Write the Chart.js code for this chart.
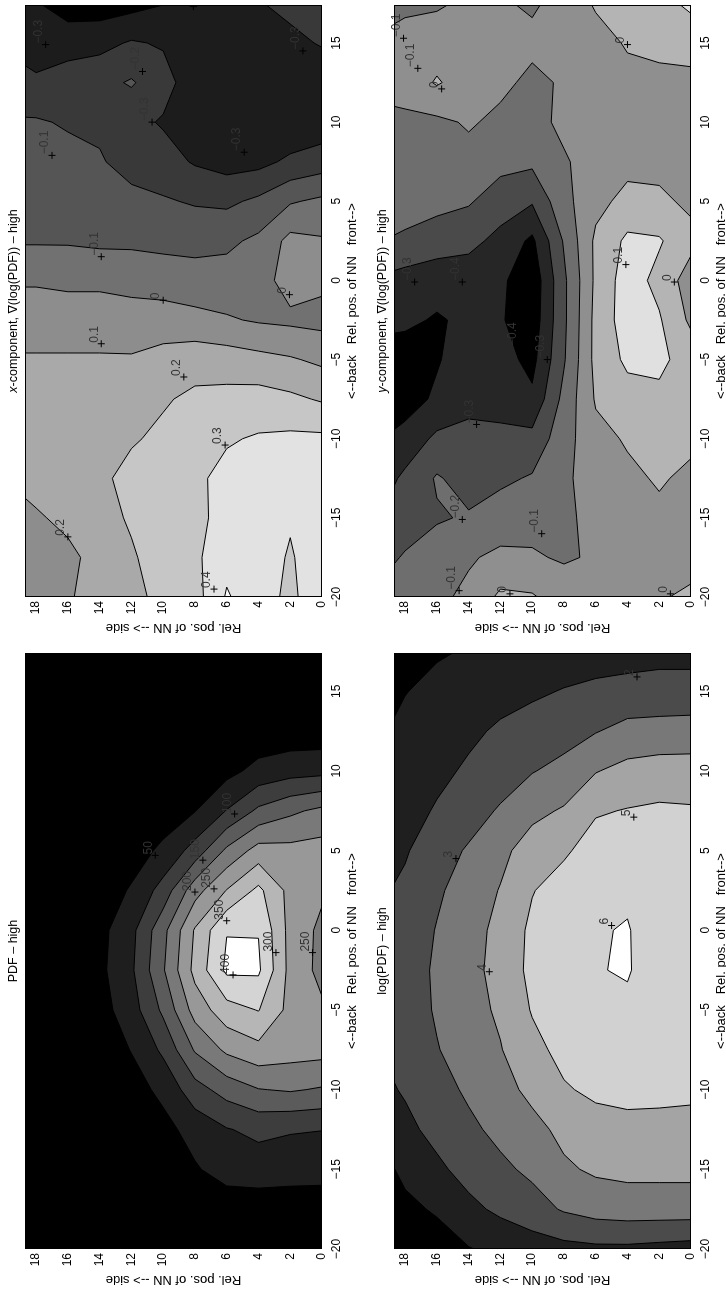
<!DOCTYPE html>
<html>
<head>
<meta charset="utf-8">
<script src="https://cdn.jsdelivr.net/npm/chart.js@4.4.0/dist/chart.umd.min.js"></script>
<style>
  html, body { margin: 0; padding: 0; background: #fff; overflow: hidden; }
  #page { position: absolute; left: 0; top: 0; width: 1294px; height: 726px;
          transform-origin: 0 0; transform: translate(0, 1294px) rotate(-90deg); background: #fff; }
  #page canvas { position: absolute; }
</style>
</head>
<body>
<div id="page">
  <canvas id="pdf" width="647" height="363" style="left:0;top:0"></canvas>
  <canvas id="xcomp" width="647" height="363" style="left:647px;top:0"></canvas>
  <canvas id="logpdf" width="647" height="363" style="left:0;top:363px"></canvas>
  <canvas id="ycomp" width="647" height="363" style="left:647px;top:363px"></canvas>
</div>
<script>
// grille commune (position relative du voisin)
const gridX = [-20, -17.5, -15, -12.5, -10, -7.5, -5, -2.5, 0, 2.5, 5, 7.5, 10, 12.5, 15, 17.4];
const gridY = [0, 2, 4, 6, 8, 10, 12, 14, 16, 18, 18.7];
const xTicks = [-20, -15, -10, -5, 0, 5, 10, 15];
const yTicks = [0, 2, 4, 6, 8, 10, 12, 14, 16, 18];

// PDF - high (une ligne par valeur de gridY)
const pdfZ = [
  [3, 20, 70, 101, 195, 268, 258, 235, 238, 258, 270, 212, 85, 20, 8, 3],
  [3, 20, 72, 104, 205, 272, 285, 284, 283, 284, 265, 190, 80, 20, 8, 3],
  [4, 22, 75, 112, 198, 285, 352, 408, 398, 362, 270, 160, 65, 18, 7, 3],
  [4, 22, 70, 97, 170, 260, 330, 410, 398, 302, 210, 102, 35, 10, 5, 2],
  [3, 15, 45, 68, 130, 205, 270, 315, 305, 230, 120, 48, 18, 6, 3, 1],
  [2, 6, 18, 35, 62, 110, 160, 195, 185, 120, 60, 25, 8, 3, 1, 0],
  [1, 3, 8, 16, 30, 52, 78, 92, 86, 55, 28, 12, 4, 1, 0, 0],
  [0, 1, 3, 6, 12, 20, 30, 38, 35, 22, 12, 5, 2, 0, 0, 0],
  [0, 0, 1, 2, 5, 8, 12, 15, 14, 9, 4, 2, 1, 0, 0, 0],
  [0, 0, 0, 1, 2, 3, 5, 6, 6, 4, 2, 1, 0, 0, 0, 0],
  [0, 0, 0, 0, 1, 2, 4, 5, 5, 3, 2, 1, 0, 0, 0, 0]
];
const pdfLevels = [50, 100, 150, 200, 250, 300, 350, 400];
const pdfLabelX = [4.7, 7.3, 4.4, 2.4, 2.6, 0.6, -2.8, -1.4, -1.4];
const pdfLabelY = [10.5, 5.5, 7.5, 8.0, 6.8, 6.0, 5.6, 2.9, 0.6];
const pdfLabelText = ['50', '100', '150', '200', '250', '350', '400', '300', '250'];

// log(PDF) - high
const logZ = [
  [1.6, 3.5, 4.25, 4.6, 5.25, 5.6, 5.55, 5.47, 5.48, 5.56, 5.45, 5.1, 4.45, 3.4, 2.4, 1.7],
  [1.7, 3.5, 4.25, 4.65, 5.3, 5.62, 5.66, 5.66, 5.65, 5.66, 5.55, 5.15, 4.45, 3.35, 2.4, 1.7],
  [1.8, 3.5, 4.25, 4.7, 5.3, 5.65, 5.88, 6.05, 6.04, 5.9, 5.6, 5.05, 4.3, 3.3, 2.35, 1.6],
  [1.8, 3.4, 4.15, 4.6, 5.2, 5.55, 5.8, 5.97, 5.95, 5.75, 5.45, 4.9, 3.95, 2.95, 2.2, 1.6],
  [1.7, 3.1, 3.85, 4.25, 4.9, 5.3, 5.6, 5.75, 5.72, 5.45, 4.85, 4.1, 3.3, 2.6, 2.05, 1.5],
  [1.5, 2.6, 3.2, 3.7, 4.25, 4.7, 5.07, 5.27, 5.22, 4.95, 4.45, 3.75, 2.95, 2.4, 1.85, 1.4],
  [1.25, 2.2, 2.8, 3.25, 3.65, 3.95, 4.15, 4.3, 4.25, 4.05, 3.75, 3.1, 2.55, 2.15, 1.65, 1.25],
  [0.95, 1.75, 2.35, 2.8, 3.15, 3.45, 3.65, 3.72, 3.65, 3.45, 3.1, 2.6, 2.15, 1.8, 1.45, 1.05],
  [0.6, 1.1, 1.8, 2.3, 2.65, 2.95, 3.1, 3.15, 3.05, 2.85, 2.6, 2.1, 1.75, 1.45, 1.15, 0.95],
  [0.4, 0.8, 1.2, 1.75, 2.1, 2.35, 2.5, 2.5, 2.4, 2.2, 1.9, 1.6, 1.35, 1.15, 0.98, 0.7],
  [0.3, 0.65, 0.98, 1.6, 1.95, 2.2, 2.35, 2.35, 2.25, 2.05, 1.75, 1.5, 1.25, 1.05, 0.9, 0.6]
];
const logLevels = [1, 2, 3, 4, 5, 6];
const logLabelX = [4.5, -2.6, 7.1, 0.3, 15.9];
const logLabelY = [14.8, 12.7, 3.6, 5.0, 3.4];
const logLabelText = ['3', '4', '5', '6', '2'];

// composante x du gradient de log(PDF)
const xcompZ = [
  [0.36, 0.36, 0.35, 0.35, 0.32, 0.19, 0.08, -0.03, 0.02, 0.01, -0.08, -0.25, -0.36, -0.38, -0.29, -0.26],
  [0.28, 0.29, 0.31, 0.34, 0.32, 0.22, 0.11, -0.02, 0.04, 0.03, -0.11, -0.28, -0.38, -0.39, -0.33, -0.27],
  [0.34, 0.35, 0.36, 0.35, 0.31, 0.24, 0.13, -0.01, -0.04, -0.08, -0.18, -0.33, -0.38, -0.39, -0.36, -0.31],
  [0.41, 0.37, 0.34, 0.33, 0.29, 0.23, 0.15, 0.01, -0.06, -0.12, -0.22, -0.34, -0.38, -0.39, -0.37, -0.32],
  [0.26, 0.28, 0.27, 0.28, 0.26, 0.22, 0.16, 0.03, -0.06, -0.13, -0.21, -0.31, -0.36, -0.36, -0.35, -0.33],
  [0.22, 0.24, 0.25, 0.26, 0.22, 0.19, 0.14, 0.04, -0.04, -0.13, -0.19, -0.26, -0.31, -0.26, -0.31, -0.4],
  [0.18, 0.19, 0.21, 0.23, 0.19, 0.16, 0.11, 0.04, -0.03, -0.12, -0.17, -0.24, -0.27, -0.19, -0.29, -0.43],
  [0.14, 0.13, 0.17, 0.18, 0.16, 0.14, 0.11, 0.05, -0.02, -0.12, -0.15, -0.19, -0.22, -0.23, -0.33, -0.45],
  [0.09, 0.08, 0.12, 0.15, 0.14, 0.13, 0.11, 0.05, -0.02, -0.11, -0.14, -0.17, -0.21, -0.24, -0.35, -0.44],
  [0.07, 0.06, 0.09, 0.13, 0.13, 0.13, 0.11, 0.05, -0.01, -0.11, -0.12, -0.16, -0.19, -0.28, -0.36, -0.39],
  [0.05, 0.05, 0.08, 0.12, 0.12, 0.12, 0.11, 0.05, -0.01, -0.11, -0.12, -0.15, -0.19, -0.27, -0.34, -0.36]
];
const xcompLevels = [-0.4, -0.3, -0.2, -0.1, 0, 0.1, 0.2, 0.3, 0.4];
const xcompLabelX = [-19.5, -10.4, -16.2, -6.1, -4.0, -1.25, -0.9, 1.5, 7.9, 13.2, 10, 8.1, 14.9, 14.5, 17.3, 17.3];
const xcompLabelY = [6.8, 6.1, 16, 8.7, 13.9, 10.0, 2.05, 13.9, 17, 11.3, 10.7, 4.9, 17.4, 1.2, 8.1, 15.8];
const xcompLabelText = ['0.4', '0.3', '0.2', '0.2', '0.1', '0', '0', '\u22120.1', '\u22120.1', '\u22120.2', '\u22120.3', '\u22120.3', '\u22120.3', '\u22120.3', '', ''];

// composante y du gradient de log(PDF)
const ycompZ = [
  [0.02, -0.04, -0.03, -0.02, 0.02, 0.06, 0.06, -0.02, -0.05, 0.03, -0.02, -0.04, -0.03, -0.02, 0.03, 0.12],
  [-0.01, -0.03, -0.02, 0.01, 0.04, 0.08, 0.12, 0.11, 0.07, 0.11, 0.02, -0.03, -0.04, -0.02, 0.02, 0.06],
  [-0.03, -0.06, -0.05, -0.02, 0.01, 0.06, 0.12, 0.15, 0.15, 0.12, 0.03, -0.03, -0.04, -0.03, 0.01, 0.05],
  [-0.06, -0.09, -0.07, -0.05, -0.03, 0.01, 0.03, 0.03, 0.02, 0.02, -0.03, -0.06, -0.06, -0.07, -0.04, 0.01],
  [-0.05, -0.11, -0.12, -0.12, -0.14, -0.17, -0.21, -0.22, -0.22, -0.19, -0.13, -0.11, -0.08, -0.09, -0.08, -0.07],
  [0.01, -0.09, -0.13, -0.19, -0.27, -0.38, -0.43, -0.46, -0.47, -0.42, -0.29, -0.18, -0.13, -0.12, -0.08, -0.11],
  [0.02, -0.08, -0.15, -0.22, -0.28, -0.33, -0.36, -0.39, -0.38, -0.33, -0.25, -0.17, -0.12, -0.08, -0.06, -0.09],
  [-0.08, -0.11, -0.19, -0.24, -0.29, -0.31, -0.34, -0.38, -0.36, -0.27, -0.19, -0.13, -0.09, -0.05, -0.06, -0.08],
  [-0.12, -0.15, -0.21, -0.19, -0.28, -0.38, -0.41, -0.41, -0.36, -0.25, -0.17, -0.12, -0.12, 0.01, -0.05, -0.11],
  [-0.14, -0.19, -0.25, -0.28, -0.36, -0.45, -0.45, -0.38, -0.34, -0.22, -0.15, -0.11, -0.12, -0.06, -0.08, -0.11],
  [-0.15, -0.21, -0.26, -0.31, -0.38, -0.47, -0.46, -0.37, -0.33, -0.21, -0.14, -0.11, -0.12, -0.07, -0.09, -0.11]
];
const ycompLevels = [-0.4, -0.3, -0.2, -0.1, 0, 0.1];
const ycompLabelX = [15.3, 13.4, 12.1, 14.9, -9.1, -15.1, -16.0, -19.6, -19.8, -19.8, -0.1, -0.1, -4.2, -5.0, 1.0, -0.1];
const ycompLabelY = [18.1, 17.2, 15.7, 4.0, 13.5, 14.4, 9.4, 14.6, 11.4, 1.3, 14.4, 17.4, 10.8, 9.05, 4.1, 1.05];
const ycompLabelText = ['\u22120.1', '\u22120.1', '0', '0', '\u22120.3', '\u22120.2', '\u22120.1', '\u22120.1', '0', '0', '\u22120.4', '\u22120.3', '\u22120.4', '\u22120.3', '0.1', '0'];

const FONT = "'Liberation Sans', Arial, 'DejaVu Sans', sans-serif";
const xLabel = '<--back   Rel. pos. of NN   front-->';
const yLabel = 'Rel. pos. of NN --> side';

// morceau de cellule ou z >= niveau (parcours bl, br, tr, tl)
function cellPiece(P, V, lev) {
  const out = [];
  for (let k = 0; k < 4; k++) {
    const a = V[k], b = V[(k + 1) % 4];
    const pa = P[k], pb = P[(k + 1) % 4];
    if (a >= lev) out.push({ p: pa });
    if ((a >= lev) !== (b >= lev)) {
      const t = (lev - a) / (b - a);
      out.push({ p: [pa[0] + t * (pb[0] - pa[0]), pa[1] + t * (pb[1] - pa[1])], exit: a >= lev });
    }
  }
  return out;
}

const panels = {};

const contourPlugin = {
  id: 'contourFill',
  beforeDatasetsDraw(chart) {
    const p = panels[chart.canvas.id];
    const { ctx, chartArea: a } = chart;
    const px = gridX.map(v => chart.scales.x.getPixelForValue(v));
    const py = gridY.map(v => chart.scales.y.getPixelForValue(v));
    ctx.save();
    ctx.beginPath();
    ctx.rect(a.left, a.top, a.right - a.left, a.bottom - a.top);
    ctx.clip();
    ctx.fillStyle = p.colors[0];
    ctx.fillRect(a.left, a.top, a.right - a.left, a.bottom - a.top);
    const segs = [];
    p.levels.forEach((lev, k) => {
      ctx.beginPath();
      for (let j = 0; j < gridY.length - 1; j++) {
        for (let i = 0; i < gridX.length - 1; i++) {
          const P = [[px[i], py[j]], [px[i + 1], py[j]], [px[i + 1], py[j + 1]], [px[i], py[j + 1]]];
          const V = [p.z[j][i], p.z[j][i + 1], p.z[j + 1][i + 1], p.z[j + 1][i]];
          const piece = cellPiece(P, V, lev);
          if (piece.length < 3) continue;
          ctx.moveTo(piece[0].p[0], piece[0].p[1]);
          for (let m = 1; m < piece.length; m++) ctx.lineTo(piece[m].p[0], piece[m].p[1]);
          ctx.closePath();
          for (let m = 0; m < piece.length; m++) {
            if (piece[m].exit === true) segs.push([piece[m].p, piece[(m + 1) % piece.length].p]);
          }
        }
      }
      ctx.fillStyle = p.colors[k + 1];
      ctx.fill();
    });
    // lignes de niveau
    ctx.beginPath();
    segs.forEach(([s, e]) => { ctx.moveTo(s[0], s[1]); ctx.lineTo(e[0], e[1]); });
    ctx.strokeStyle = '#000';
    ctx.lineWidth = 1;
    ctx.stroke();
    ctx.restore();
  },
  afterDatasetsDraw(chart) {
    const p = panels[chart.canvas.id];
    const { ctx } = chart;
    ctx.save();
    ctx.font = '12px ' + FONT;
    ctx.fillStyle = '#333';
    ctx.textAlign = 'left';
    ctx.textBaseline = 'bottom';
    p.labelX.forEach((lx, i) => {
      const x = chart.scales.x.getPixelForValue(lx);
      const y = chart.scales.y.getPixelForValue(p.labelY[i]);
      ctx.fillText(p.labelText[i], x + 1, y - 1);
    });
    ctx.restore();
  },
  afterDraw(chart) {
    const p = panels[chart.canvas.id];
    const { ctx, chartArea: a } = chart;
    ctx.save();
    // cadre
    ctx.strokeStyle = '#000';
    ctx.lineWidth = 1;
    ctx.strokeRect(a.left + 0.5, a.top + 0.5, a.right - a.left - 1, a.bottom - a.top - 1);
    ctx.fillStyle = '#000';
    ctx.textBaseline = 'middle';
    // titre
    const cx = (a.left + a.right) / 2;
    const ty = a.top - 11;
    ctx.font = 'italic 12.5px ' + FONT;
    const w1 = p.titleItalic ? ctx.measureText(p.titleItalic).width : 0;
    ctx.font = '12.5px ' + FONT;
    const w2 = ctx.measureText(p.title).width;
    let sx = cx - (w1 + w2) / 2;
    ctx.textAlign = 'left';
    if (p.titleItalic) {
      ctx.font = 'italic 12.5px ' + FONT;
      ctx.fillText(p.titleItalic, sx, ty);
      sx += w1;
      ctx.font = '12.5px ' + FONT;
    }
    ctx.fillText(p.title, sx, ty);
    // titres des axes
    ctx.font = '13px ' + FONT;
    ctx.textAlign = 'center';
    ctx.fillText(xLabel, cx, a.bottom + 30);
    ctx.translate(a.left - 31, (a.top + a.bottom) / 2);
    ctx.rotate(-Math.PI / 2);
    ctx.fillText(yLabel, 0, 0);
    ctx.restore();
  }
};

function fmt(v) {
  return v < 0 ? '\u2212' + Math.abs(v) : String(v);
}

function makeChart(id, panel, area) {
  panels[id] = panel;
  const canvas = document.getElementById(id);
  return new Chart(canvas, {
    type: 'scatter',
    data: {
      datasets: [{
        data: panel.labelX.map((x, i) => ({ x: x, y: panel.labelY[i] })),
        pointStyle: 'cross',
        pointRadius: 3.5,
        borderColor: '#000',
        borderWidth: 1,
        backgroundColor: '#000'
      }]
    },
    options: {
      responsive: false,
      animation: false,
      devicePixelRatio: 1,
      events: [],
      layout: { padding: { top: area.top, right: canvas.width - area.right, left: 0, bottom: 0 } },
      plugins: { legend: { display: false }, tooltip: { enabled: false } },
      scales: {
        x: {
          type: 'linear', min: -20, max: 17.4,
          afterBuildTicks: s => { s.ticks = xTicks.map(v => ({ value: v })); },
          afterFit: s => { s.height = canvas.height - area.bottom; },
          grid: { display: false, drawTicks: false },
          border: { display: false },
          ticks: { padding: 7, color: '#000', autoSkip: false, maxRotation: 0,
                   font: { family: FONT, size: 12 }, callback: v => fmt(v) }
        },
        y: {
          type: 'linear', min: 0, max: 18.7,
          afterBuildTicks: s => { s.ticks = yTicks.map(v => ({ value: v })); },
          afterFit: s => { s.width = area.left; },
          grid: { display: false, drawTicks: false },
          border: { display: false },
          ticks: { padding: 4, color: '#000', autoSkip: false,
                   font: { family: FONT, size: 12 }, callback: v => fmt(v) }
        }
      }
    },
    plugins: [contourPlugin]
  });
}

makeChart('pdf', {
  z: pdfZ, levels: pdfLevels,
  colors: ['#000000', '#1e1e1e', '#3d3d3d', '#5b5b5b', '#797979', '#989898', '#b6b6b6', '#d4d4d4', '#ffffff'],
  labelX: pdfLabelX, labelY: pdfLabelY, labelText: pdfLabelText,
  title: 'PDF \u2013 high'
}, { left: 45, right: 641, top: 25, bottom: 322 });

makeChart('xcomp', {
  z: xcompZ, levels: xcompLevels,
  colors: ['#000000', '#1c1c1c', '#393939', '#555555', '#717171', '#8d8d8d', '#a9a9a9', '#c6c6c6', '#e2e2e2', '#fafafa'],
  labelX: xcompLabelX, labelY: xcompLabelY, labelText: xcompLabelText,
  titleItalic: 'x', title: '-component, \u2207(log(PDF)) \u2013 high'
}, { left: 50, right: 646, top: 25, bottom: 322 });

makeChart('logpdf', {
  z: logZ, levels: logLevels,
  colors: ['#000000', '#1f1f1f', '#4b4b4b', '#787878', '#a4a4a4', '#d1d1d1', '#ffffff'],
  labelX: logLabelX, labelY: logLabelY, labelText: logLabelText,
  title: 'log(PDF) \u2013 high'
}, { left: 45, right: 641, top: 31, bottom: 328 });

makeChart('ycomp', {
  z: ycompZ, levels: ycompLevels,
  colors: ['#000000', '#262626', '#4a4a4a', '#6e6e6e', '#8f8f8f', '#b4b4b4', '#e0e0e0'],
  labelX: ycompLabelX, labelY: ycompLabelY, labelText: ycompLabelText,
  titleItalic: 'y', title: '-component, \u2207(log(PDF)) \u2013 high'
}, { left: 50, right: 646, top: 31, bottom: 328 });
</script>
</body>
</html>
